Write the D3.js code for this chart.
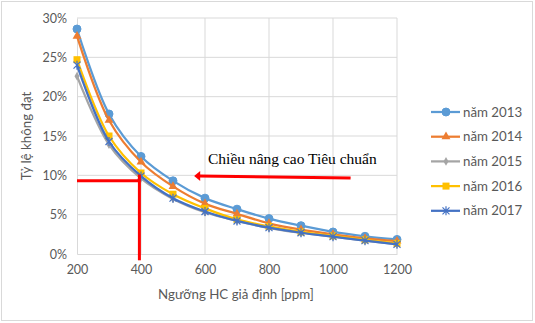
<!DOCTYPE html>
<html>
<head>
<meta charset="utf-8">
<script src="https://cdn.jsdelivr.net/npm/d3@7"></script>
<style>
    body { margin: 0; background: #fff; }
    svg text { font-family: Lato, "Open Sans", sans-serif; fill: #595959; }
</style>
</head>
<body>
<div id="chart"></div>
<script>
const thresholds = [200, 300, 400, 500, 600, 700, 800, 900, 1000, 1100, 1200];
const seriesNames = ["năm 2013", "năm 2014", "năm 2015", "năm 2016", "năm 2017"];
const values2013 = [28.6, 17.8, 12.4, 9.3, 7.1, 5.7, 4.5, 3.6, 2.8, 2.25, 1.85];
const values2014 = [27.7, 17.0, 11.7, 8.6, 6.4, 5.1, 3.9, 3.1, 2.5, 2.0, 1.65];
const values2015 = [22.6, 13.9, 9.6, 7.0, 5.3, 4.2, 3.3, 2.7, 2.2, 1.7, 1.25];
const values2016 = [24.7, 15.0, 10.3, 7.6, 5.8, 4.4, 3.5, 2.8, 2.3, 1.8, 1.35];
const values2017 = [24.0, 14.3, 9.9, 7.1, 5.4, 4.2, 3.35, 2.7, 2.2, 1.7, 1.23];
const yTicks = [0, 5, 10, 15, 20, 25, 30];
const xTicks = [200, 400, 600, 800, 1000, 1200];

const colors = ["#5B9BD5", "#ED7D31", "#A5A5A5", "#FFC000", "#4472C4"];
const shapes = ["circle", "triangle", "diamond", "square", "star"];
const allValues = [values2013, values2014, values2015, values2016, values2017];

const width = 535, height = 323;
const margin = { left: 77, right: 138, top: 18, bottom: 69 };

const svg = d3.select("#chart").append("svg")
    .attr("width", width)
    .attr("height", height);

svg.append("rect")
    .attr("x", 1.5).attr("y", 1.5)
    .attr("width", width - 4).attr("height", height - 4)
    .attr("fill", "#fff")
    .attr("stroke", "#d9d9d9");

const x = d3.scaleLinear().domain([200, 1200]).range([margin.left, width - margin.right]);
const y = d3.scaleLinear().domain([0, 30]).range([height - margin.bottom, margin.top]);

// gridlines
svg.append("g").selectAll("line.h")
    .data(yTicks.filter(d => d > 0))
    .enter().append("line")
    .attr("x1", x(200)).attr("x2", x(1200))
    .attr("y1", d => y(d)).attr("y2", d => y(d))
    .attr("stroke", "#d9d9d9");

svg.append("g").selectAll("line.v")
    .data(xTicks.filter(d => d > 200))
    .enter().append("line")
    .attr("x1", d => x(d)).attr("x2", d => x(d))
    .attr("y1", y(0)).attr("y2", y(30))
    .attr("stroke", "#d9d9d9");

// axes
const xAxis = svg.append("g")
    .attr("transform", `translate(0,${y(0)})`)
    .call(d3.axisBottom(x).tickValues(xTicks).tickSize(0).tickPadding(11).tickFormat(d3.format("d")));
xAxis.select(".domain").attr("stroke", "#d9d9d9");
xAxis.selectAll("text").style("font-size", "12.5px").attr("fill", "#595959");

const yAxis = svg.append("g")
    .attr("transform", `translate(${x(200)},0)`)
    .call(d3.axisLeft(y).tickValues(yTicks).tickSize(0).tickPadding(10).tickFormat(d => d + "%"));
yAxis.select(".domain").attr("stroke", "#d9d9d9");
yAxis.selectAll("text").style("font-size", "12.5px").attr("fill", "#595959");

svg.append("text")
    .attr("x", (x(200) + x(1200)) / 2 - 1)
    .attr("y", 299)
    .attr("text-anchor", "middle")
    .style("font-size", "13.3px")
    .text("Ngưỡng HC giả định [ppm]");

svg.append("text")
    .attr("transform", `translate(31,${(y(0) + y(30)) / 2}) rotate(-90)`)
    .attr("text-anchor", "middle")
    .style("font-size", "13.3px")
    .text("Tỷ lệ không đạt");

// markers
function drawMarker(g, shape, color) {
    if (shape === "circle") {
        g.append("circle").attr("r", 4).attr("fill", color).attr("stroke", color);
    } else if (shape === "triangle") {
        g.append("path").attr("d", d3.symbol(d3.symbolTriangle, 34)()).attr("fill", color);
    } else if (shape === "diamond") {
        g.append("path").attr("d", d3.symbol(d3.symbolDiamond, 22)()).attr("fill", color);
    } else if (shape === "square") {
        g.append("rect").attr("x", -3.5).attr("y", -3.5).attr("width", 7).attr("height", 7).attr("fill", color);
    } else if (shape === "star") {
        g.append("path").attr("d", "M-3.5,-3.5L3.5,3.5M-3.5,3.5L3.5,-3.5M0,-4.5L0,4.5")
            .attr("stroke", color).attr("stroke-width", 1.2).attr("fill", "none");
    }
}

const line = d3.line()
    .x((d, i) => x(thresholds[i]))
    .y(d => y(d))
    .curve(d3.curveCatmullRom.alpha(0.5));

allValues.forEach((vals, k) => {
    const g = svg.append("g");
    g.append("path")
        .attr("d", line(vals))
        .attr("fill", "none")
        .attr("stroke", colors[k])
        .attr("stroke-width", 2.25);
    vals.forEach((v, i) => {
        const mg = g.append("g").attr("transform", `translate(${x(thresholds[i])},${y(v)})`);
        drawMarker(mg, shapes[k], colors[k]);
    });
});

// legend
const legend = svg.append("g").attr("transform", "translate(431,112)");
seriesNames.forEach((name, k) => {
    const row = legend.append("g").attr("transform", `translate(0,${k * 24.7})`);
    row.append("line").attr("x1", 0).attr("x2", 29).attr("y1", 0).attr("y2", 0)
        .attr("stroke", colors[k]).attr("stroke-width", 2.25);
    drawMarker(row.append("g").attr("transform", "translate(15,0)"), shapes[k], colors[k]);
    row.append("text")
        .attr("x", 32).attr("y", 0).attr("dy", "0.35em")
        .style("font-size", "13.3px")
        .text(name);
});

// red annotations
svg.append("line")
    .attr("x1", x(200)).attr("x2", x(395))
    .attr("y1", y(9.3)).attr("y2", y(9.3))
    .attr("stroke", "#FF0000").attr("stroke-width", 3);
svg.append("line")
    .attr("x1", x(395)).attr("x2", x(395))
    .attr("y1", y(10.1)).attr("y2", y(-0.8))
    .attr("stroke", "#FF0000").attr("stroke-width", 3);

svg.append("line")
    .attr("x1", x(1055)).attr("x2", x(580))
    .attr("y1", y(9.65)).attr("y2", y(9.9))
    .attr("stroke", "#FF0000").attr("stroke-width", 3);
svg.append("path")
    .attr("d", `M${x(566)},${y(9.9)}L${x(585)},${y(9.9) - 5}L${x(585)},${y(9.9) + 5}Z`)
    .attr("fill", "#FF0000");

svg.append("text")
    .attr("x", 208).attr("y", 164)
    .style("font-family", "'Liberation Serif', 'Times New Roman', serif")
    .style("font-size", "15.5px")
    .style("fill", "#000")
    .text("Chi\u1EC1u n\u00E2ng cao Ti\u00EAu chu\u1EA9n");
</script>
</body>
</html>
